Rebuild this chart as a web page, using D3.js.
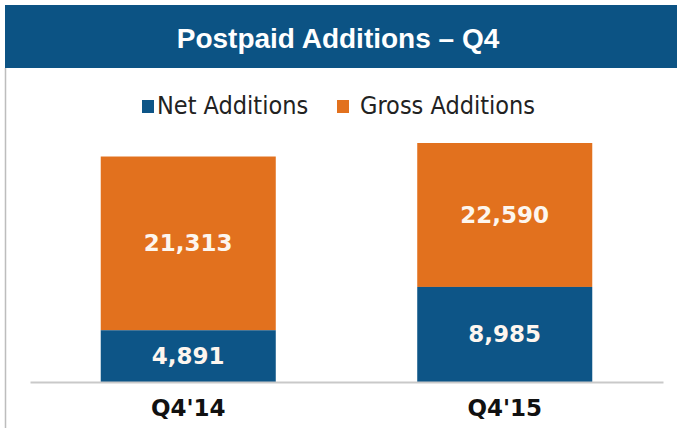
<!DOCTYPE html>
<html>
<head>
<meta charset="utf-8">
<script src="https://cdn.jsdelivr.net/npm/d3@7"></script>
<style>
  html, body { margin: 0; padding: 0; background: #fff; }
</style>
</head>
<body>
<div id="chart"></div>
<script>
const categories = ["Q4'14", "Q4'15"];
const seriesNames = ["Net Additions", "Gross Additions"];
const netAdditions = [4891, 8985];
const grossAdditions = [21313, 22590];
const titleText = "Postpaid Additions \u2013 Q4";

const width = 677, height = 428;
const blue = "#0d5587", orange = "#e2711e";

const svg = d3.select("#chart")
  .append("svg")
  .attr("width", width)
  .attr("height", height);

// panel border + title bar
svg.append("line")
  .attr("x1", 5.5).attr("x2", 5.5).attr("y1", 68).attr("y2", height)
  .attr("stroke", "#bdbdbd").attr("stroke-width", 1.5);

svg.append("rect")
  .attr("x", 5).attr("y", 5).attr("width", width - 5).attr("height", 63)
  .attr("fill", "#0c5384");

svg.append("text")
  .attr("x", 338).attr("y", 48)
  .attr("text-anchor", "middle")
  .attr("fill", "#fff")
  .style("font-family", "'Liberation Sans', Arial, sans-serif")
  .style("font-weight", "bold")
  .style("font-size", "28px")
  .text(titleText);

// legend
const legendX = [142, 337];
const legendColor = [blue, orange];
const legend = svg.append("g").selectAll("g")
  .data(seriesNames)
  .enter()
  .append("g")
  .attr("transform", (d, i) => "translate(" + legendX[i] + ",0)");

legend.append("rect")
  .attr("x", 0).attr("y", 100).attr("width", 12).attr("height", 13)
  .attr("fill", (d, i) => legendColor[i]);

legend.append("text")
  .attr("x", (d, i) => i === 0 ? 15 : 23)
  .attr("y", 114)
  .attr("fill", "#222")
  .style("font-family", "'DejaVu Sans Condensed', 'DejaVu Sans', sans-serif")
  .style("font-size", "25px")
  .text(d => d);

// scales
const x = d3.scaleBand()
  .domain(categories)
  .range([30, 663])
  .paddingInner(0.447)
  .paddingOuter(0.2235);

const y = d3.scaleLinear()
  .domain([0, d3.max(grossAdditions)])
  .range([382, 143]);

const rows = categories.map((c, i) => ({ cat: c, net: netAdditions[i], gross: grossAdditions[i] }));

// gross (total) bars, orange part on top of net
svg.selectAll(".gross")
  .data(rows)
  .enter()
  .append("rect")
  .attr("x", d => x(d.cat))
  .attr("y", d => y(d.gross))
  .attr("width", x.bandwidth())
  .attr("height", d => y(d.net) - y(d.gross))
  .attr("fill", orange);

svg.selectAll(".net")
  .data(rows)
  .enter()
  .append("rect")
  .attr("x", d => x(d.cat))
  .attr("y", d => y(d.net))
  .attr("width", x.bandwidth())
  .attr("height", d => y(0) - y(d.net))
  .attr("fill", blue);

// value labels
const fmt = d3.format(",");
const labelStyle = sel => sel
  .attr("text-anchor", "middle")
  .attr("dominant-baseline", "central")
  .attr("fill", "#fdf6ef")
  .style("font-family", "'DejaVu Sans', Verdana, sans-serif")
  .style("font-weight", "bold")
  .style("font-size", "23px");

svg.selectAll(".grossLabel")
  .data(rows)
  .enter()
  .append("text")
  .attr("x", d => x(d.cat) + x.bandwidth() / 2)
  .attr("y", d => (y(d.gross) + y(d.net)) / 2)
  .call(labelStyle)
  .text(d => fmt(d.gross));

svg.selectAll(".netLabel")
  .data(rows)
  .enter()
  .append("text")
  .attr("x", d => x(d.cat) + x.bandwidth() / 2)
  .attr("y", d => (y(d.net) + y(0)) / 2)
  .call(labelStyle)
  .text(d => fmt(d.net));

// x axis
const xAxis = svg.append("g")
  .attr("transform", "translate(0," + y(0) + ")")
  .call(d3.axisBottom(x).tickSize(0).tickPadding(18));

xAxis.select(".domain")
  .attr("stroke", "#c9c9c9")
  .attr("stroke-width", 2);

xAxis.selectAll("text")
  .attr("fill", "#111")
  .style("font-family", "'DejaVu Sans', Verdana, sans-serif")
  .style("font-weight", "bold")
  .style("font-size", "23px");
</script>
</body>
</html>
